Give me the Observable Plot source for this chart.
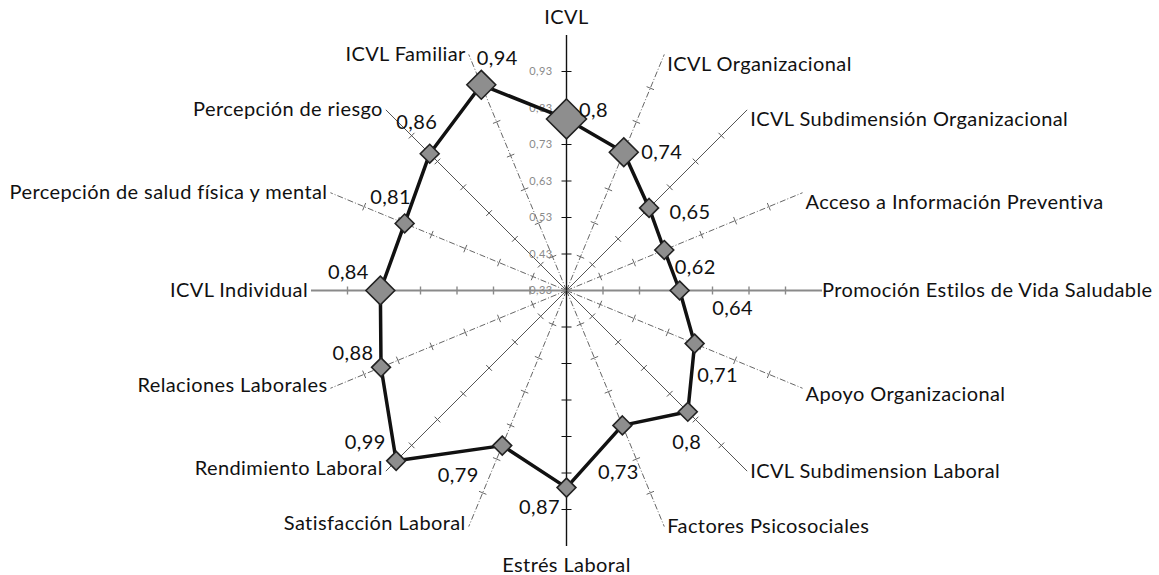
<!DOCTYPE html>
<html>
<head>
<meta charset="utf-8">
<script src="https://cdn.jsdelivr.net/npm/d3@7"></script>
<script src="https://cdn.jsdelivr.net/npm/@observablehq/plot@0.6"></script>
<style>
  html, body { margin: 0; padding: 0; background: #fff; }
  #chart svg { display: block; }
  #chart text { letter-spacing: 0.4px; }
</style>
</head>
<body>
<div id="chart"></div>
<script>
// ---------- data ----------
const dimensions = [
  "ICVL",
  "ICVL Organizacional",
  "ICVL Subdimensión Organizacional",
  "Acceso a Información Preventiva",
  "Promoción Estilos de Vida Saludable",
  "Apoyo Organizacional",
  "ICVL Subdimension Laboral",
  "Factores Psicosociales",
  "Estrés Laboral",
  "Satisfacción Laboral",
  "Rendimiento Laboral",
  "Relaciones Laborales",
  "ICVL Individual",
  "Percepción de salud física y mental",
  "Percepción de riesgo",
  "ICVL Familiar"
];
const scores = [0.8, 0.74, 0.65, 0.62, 0.64, 0.71, 0.8, 0.73, 0.87, 0.79, 0.99, 0.88, 0.84, 0.81, 0.86, 0.94];
const tickValues = [0.33, 0.43, 0.53, 0.63, 0.73, 0.83, 0.93];
const tickLabels = ["0,33", "0,43", "0,53", "0,63", "0,73", "0,83", "0,93"];
const scaleMin = 0.33;
const scaleMax = 1.03;

// ---------- layout / style ----------
const W = 1159, H = 575;
const cx = 566, cy = 290;      // centre of the radar in pixels
const k = 365;                 // pixels per unit of score
// pixel nudges of the value labels relative to their marker (layout only)
const labelNudge = [[27,-8],[38,0],[41,5],[31,18],[53,18],[23,32],[-1,31],[-4,47],
                    [-27,20],[-44,30],[-31,-18],[-28,-14],[-32,-18],[-14,-26],[-13,-31],[16,-26]];
const FONT = "Lato, 'Open Sans', sans-serif";

const n = dimensions.length;
const angle = i => i * 2 * Math.PI / n;
const polar = (v, i) => {
  const r = v - scaleMin, a = angle(i);
  return {x: r * Math.sin(a), y: r * Math.cos(a)};
};
const fmt = v => String(v).replace(".", ",");

// axis table
const axisRows = dimensions.map((name, i) => {
  const e = polar(scaleMax, i);
  const s = Math.sin(angle(i));
  const group = (i === 0 || i === n / 2) ? "main"
    : (i === n / 4 || i === 3 * n / 4) ? "horiz"
    : (i % 2 === 0) ? "solid" : "dashed";
  const anchor = s > 0.1 ? "start" : s < -0.1 ? "end" : "middle";
  const deg = i * 360 / n;
  let dx = anchor === "start" ? (i === n / 4 ? 0 : 3) : anchor === "end" ? -3 : 0;
  let dy = (deg > 0 && deg < 90) ? 10 : (deg > 90 && deg < 120) ? 6 : (deg > 200 && deg < 250) ? -3 : 0;
  if (i === 0) dy = -17;
  if (i === n / 2) dy = 20;
  return {i, name, x2: e.x, y2: e.y, group, anchor,
          lx: e.x + dx / k, ly: e.y - dy / k};
});

const axisStyle = {
  main:   {stroke: "#111", strokeWidth: 1.4},
  horiz:  {stroke: "#8a8a8a", strokeWidth: 2},
  solid:  {stroke: "#555", strokeWidth: 1},
  dashed: {stroke: "#666", strokeWidth: 1, strokeDasharray: "6,2,1,2"}
};

// tick marks on every spoke
const tickRows = [];
axisRows.forEach(ax => {
  const a = angle(ax.i);
  const half = (ax.group === "main" ? 5 : 4) / k;
  const px = Math.cos(a) * half, py = -Math.sin(a) * half;
  tickValues.slice(1).forEach(t => {
    const p = polar(t, ax.i);
    tickRows.push({group: ax.group, x1: p.x - px, y1: p.y - py, x2: p.x + px, y2: p.y + py});
  });
});

// series points
const pts = scores.map((v, i) => {
  const p = polar(v, i);
  const name = dimensions[i];
  const size = name === "ICVL" ? 18
    : (name.startsWith("ICVL ") && !name.includes("Subdim")) ? 13 : 8.5;
  return {i, v, x: p.x, y: p.y, size,
          tx: p.x + labelNudge[i][0] / k, ty: p.y - labelNudge[i][1] / k};
});
const closed = pts.concat([pts[0]]);

const marks = [];
// spokes
for (const g of ["solid", "dashed", "horiz", "main"]) {
  marks.push(Plot.link(axisRows.filter(d => d.group === g),
    {x1: 0, y1: 0, x2: "x2", y2: "y2", ...axisStyle[g]}));
  marks.push(Plot.link(tickRows.filter(d => d.group === g),
    {x1: "x1", y1: "y1", x2: "x2", y2: "y2",
     stroke: axisStyle[g].stroke, strokeWidth: g === "horiz" ? 1.4 : 1}));
}
// radial tick labels on the ICVL spoke
marks.push(Plot.text(tickValues.map((t, j) => ({t, label: tickLabels[j]})), {
  x: 0, y: d => d.t - scaleMin, text: "label", textAnchor: "end", dx: -14,
  fill: "#8a8a8a", fontSize: 11, fontFamily: FONT
}));
// series line
marks.push(Plot.line(closed, {x: "x", y: "y", stroke: "#111", strokeWidth: 3.5, strokeLinejoin: "round"}));
// markers
marks.push(Plot.dot(pts, {x: "x", y: "y", r: "size", symbol: "diamond2",
  fill: "#8e8e8e", stroke: "#222", strokeWidth: 1.6}));
// value labels
marks.push(Plot.text(pts, {x: "tx", y: "ty", text: d => fmt(d.v),
  fill: "#111", fontSize: 20, fontFamily: FONT}));
// dimension labels
for (const a of ["start", "middle", "end"]) {
  marks.push(Plot.text(axisRows.filter(d => d.anchor === a), {
    x: "lx", y: "ly", text: "name", textAnchor: a, fill: "#111",
    fontSize: 20, fontFamily: FONT
  }));
}

const chart = Plot.plot({
  width: W, height: H, margin: 0,
  x: {domain: [-cx / k, (W - cx) / k], axis: null},
  y: {domain: [-(H - cy) / k, cy / k], axis: null},
  r: {type: "identity"},
  style: {background: "#fff", fontFamily: FONT},
  marks
});
document.getElementById("chart").append(chart);
</script>
</body>
</html>
